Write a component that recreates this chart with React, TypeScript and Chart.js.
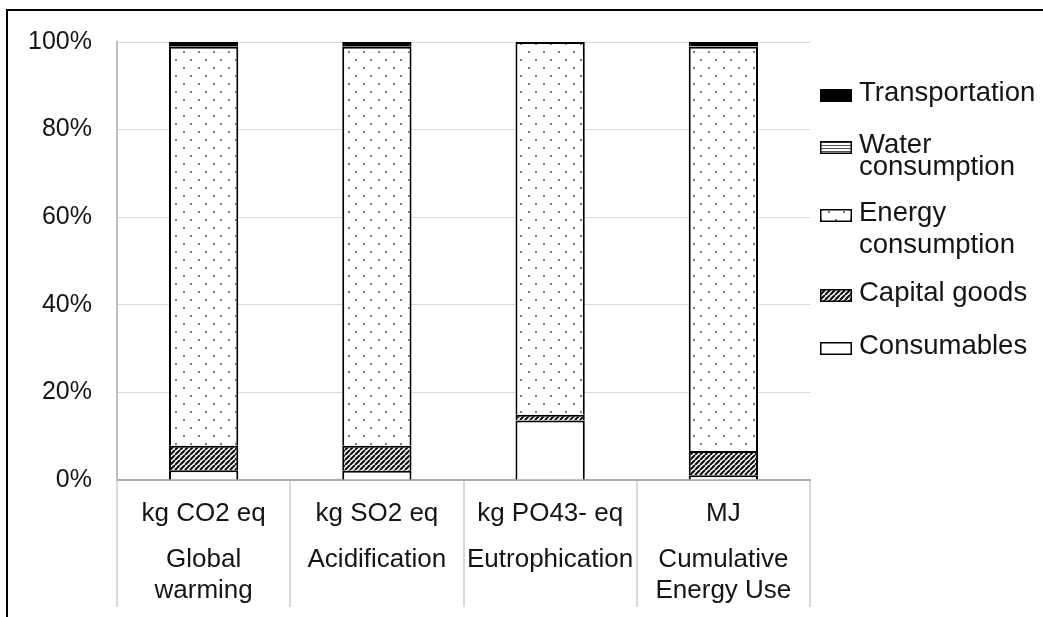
import React, { useEffect, useRef } from 'react';
import { Chart, registerables } from 'chart.js';

Chart.register(...registerables);

// ---- data ----
const categoryUnits = ['kg CO2 eq', 'kg SO2 eq', 'kg PO43- eq', 'MJ'];
const categoryNames = [['Global', 'warming'], ['Acidification'], ['Eutrophication'], ['Cumulative', 'Energy Use']];
const seriesNames = ['Consumables', 'Capital goods', 'Energy\nconsumption', 'Water\nconsumption', 'Transportation'];
const consumables = [2.2, 2.1, 13.6, 1.1];
const capitalGoods = [5.6, 5.7, 1.3, 5.5];
const energyConsumption = [91.1, 91.1, 85.1, 92.3];
const waterConsumption = [0.2, 0.2, 0.0, 0.1];
const transportation = [0.9, 0.9, 0.0, 1.0];
const yTickValues = [0, 20, 40, 60, 80, 100];
const yTickLabels = ['0%', '20%', '40%', '60%', '80%', '100%'];

const FONT = '"Liberation Sans", Arial, sans-serif';
const TEXT = '#151515';

function makeTile(w: number, h: number, draw: (c: CanvasRenderingContext2D) => void) {
  const cv = document.createElement('canvas');
  cv.width = w;
  cv.height = h;
  const c = cv.getContext('2d')!;
  c.fillStyle = '#ffffff';
  c.fillRect(0, 0, w, h);
  draw(c);
  return cv;
}

function makePatterns(ctx: CanvasRenderingContext2D) {
  const s = 5;
  const hatch = ctx.createPattern(
    makeTile(s, s, (c) => {
      c.strokeStyle = '#111';
      c.lineWidth = 2.2;
      c.beginPath();
      for (let k = -1; k <= 1; k++) {
        c.moveTo(k * s, s);
        c.lineTo(k * s + s, 0);
      }
      c.stroke();
    }),
    'repeat'
  )!;
  const dots = ctx.createPattern(
    makeTile(15, 16, (c) => {
      c.fillStyle = '#808080';
      c.fillRect(3, 3, 2, 2);
      c.fillRect(10, 11, 2, 2);
    }),
    'repeat'
  )!;
  const lines = ctx.createPattern(
    makeTile(4, 3, (c) => {
      c.fillStyle = '#555';
      c.fillRect(0, 1, 4, 1);
    }),
    'repeat'
  )!;
  return { hatch, dots, lines };
}

const LEGEND_ROWS = [93, 145, 213, 293, 346];
const LEGEND_GAPS = [0, 22, 32, 0, 0];

const sideLegend = {
  id: 'sideLegend',
  afterDraw(chart: any) {
    const ctx: CanvasRenderingContext2D = chart.ctx;
    ctx.save();
    // outer frame
    ctx.fillStyle = '#000';
    ctx.fillRect(6, 9, chart.width - 6, 2);
    ctx.fillRect(6, 9, 2, chart.height - 9);
    // legend (reverse order, like the stack)
    const ds = chart.data.datasets.slice().reverse();
    ds.forEach((d: any, i: number) => {
      const cy = LEGEND_ROWS[i];
      const gap = LEGEND_GAPS[i];
      const bx = 820, bw = 32, bh = 13;
      const by = Math.round(cy + 2 - bh / 2);
      ctx.fillStyle = d.backgroundColor;
      ctx.fillRect(bx, by, bw, bh);
      ctx.strokeStyle = '#000';
      ctx.lineWidth = 1.5;
      ctx.strokeRect(bx + 0.75, by + 0.75, bw - 1.5, bh - 1.5);
      ctx.fillStyle = TEXT;
      ctx.font = `27.5px ${FONT}`;
      ctx.textBaseline = 'middle';
      ctx.textAlign = 'left';
      String(d.label).split('\n').forEach((line: string, j: number) => {
        ctx.fillText(line, 859, cy + j * gap);
      });
    });
    ctx.restore();
  },
};

export default function App() {
  const ref = useRef<HTMLCanvasElement | null>(null);

  useEffect(() => {
    document.body.style.margin = '0';
    document.body.style.overflow = 'hidden';
    const canvas = ref.current!;
    const ctx = canvas.getContext('2d')!;
    const { hatch, dots, lines } = makePatterns(ctx);

    const labels = categoryUnits.map((u, i) => [u, '', '', categoryNames[i][0], '', categoryNames[i][1] || '']);
    const common = {
      borderColor: '#000',
      borderWidth: 2,
      barPercentage: 0.4,
      categoryPercentage: 1,
    };

    const chart = new Chart(ctx, {
      type: 'bar',
      data: {
        labels,
        datasets: [
          { label: seriesNames[0], data: consumables, backgroundColor: '#ffffff', ...common },
          { label: seriesNames[1], data: capitalGoods, backgroundColor: hatch, ...common },
          { label: seriesNames[2], data: energyConsumption, backgroundColor: dots, ...common },
          { label: seriesNames[3], data: waterConsumption, backgroundColor: lines, ...common },
          { label: seriesNames[4], data: transportation, backgroundColor: '#000000', ...common },
        ] as any,
      },
      options: {
        responsive: false,
        animation: false,
        devicePixelRatio: 1,
        layout: { padding: { top: 42, right: 233, bottom: 0, left: 0 } },
        plugins: {
          legend: { display: false },
          tooltip: { enabled: false },
        },
        scales: {
          x: {
            stacked: true,
            afterFit: (scale: any) => {
              scale.height = 137;
            },
            grid: {
              offset: true,
              drawOnChartArea: false,
              drawTicks: true,
              tickLength: 127,
              color: '#d9d9d9',
              lineWidth: 2,
            },
            border: { display: true, color: '#aaaaaa', width: 2 },
            ticks: {
              autoSkip: false,
              maxRotation: 0,
              minRotation: 0,
              padding: -101.25,
              color: TEXT,
              font: { family: FONT, size: 26, lineHeight: '15.5px' },
            },
          },
          y: {
            stacked: true,
            min: 0,
            max: 100,
            afterFit: (scale: any) => {
              scale.width = 117;
            },
            afterBuildTicks: (scale: any) => {
              scale.ticks = yTickValues.map((v) => ({ value: v }));
            },
            grid: { color: '#d9d9d9', lineWidth: 1, drawTicks: false },
            border: { display: true, color: '#bfbfbf', width: 2 },
            ticks: {
              padding: 25,
              color: TEXT,
              font: { family: FONT, size: 25 },
              callback: (_v: any, i: number) => yTickLabels[i],
            },
          },
        },
      },
      plugins: [sideLegend],
    });
    return () => chart.destroy();
  }, []);

  return (
    <div style={{ width: 1043, height: 617, background: '#fff' }}>
      <canvas ref={ref} width={1043} height={617} style={{ display: 'block', width: 1043, height: 617 }} />
    </div>
  );
}
